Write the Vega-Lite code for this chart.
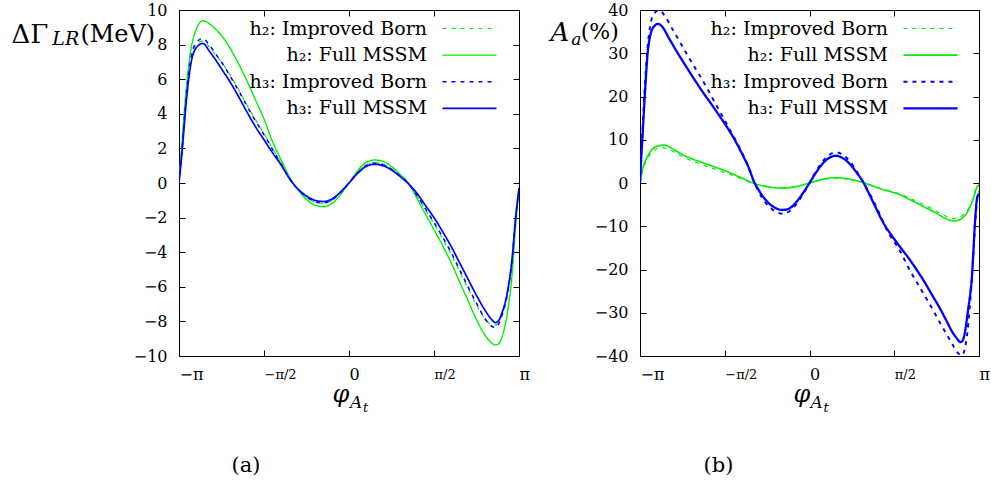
{
  "$schema": "https://vega.github.io/schema/vega-lite/v6.json",
  "bounds": "flush",
  "spacing": 121,
  "padding": {"left": 10, "top": 1, "right": 5, "bottom": 5},
  "background": "white",
  "config": {
    "font": "DejaVu Serif",
    "view": {"stroke": "#000", "strokeWidth": 1},
    "axis": {"domain": false, "grid": false, "tickColor": "#000", "tickSize": -6, "tickWidth": 1, "labelFont": "DejaVu Serif", "labelFontSize": 16, "labelColor": "#000", "titleFont": "DejaVu Serif", "titleColor": "#000", "titleFontWeight": "normal"},
    "legend": {"labelFont": "DejaVu Serif", "labelColor": "#000"},
    "title": {"font": "DejaVu Serif", "color": "#000", "fontWeight": "normal"},
    "text": {"font": "DejaVu Serif", "color": "#000"}
  },
  "resolve": {
    "scale": {"color": "independent", "strokeDash": "independent", "strokeWidth": "independent"},
    "legend": {"color": "independent", "strokeDash": "independent", "strokeWidth": "independent"}
  },
  "datasets": {
    "left": [
      {"s":"h₂: Improved Born","t":-1,"v":0},{"s":"h₂: Improved Born","t":-0.98,"v":2.2},{"s":"h₂: Improved Born","t":-0.96,"v":4.6},{"s":"h₂: Improved Born","t":-0.93,"v":7.1},{"s":"h₂: Improved Born","t":-0.9,"v":8.0},{"s":"h₂: Improved Born","t":-0.86,"v":8.2},{"s":"h₂: Improved Born","t":-0.82,"v":7.85},{"s":"h₂: Improved Born","t":-0.78,"v":7.35},{"s":"h₂: Improved Born","t":-0.74,"v":6.85},{"s":"h₂: Improved Born","t":-0.7,"v":6.25},{"s":"h₂: Improved Born","t":-0.65,"v":5.4},{"s":"h₂: Improved Born","t":-0.6,"v":4.5},{"s":"h₂: Improved Born","t":-0.55,"v":3.65},{"s":"h₂: Improved Born","t":-0.5,"v":2.85},{"s":"h₂: Improved Born","t":-0.45,"v":2.0},{"s":"h₂: Improved Born","t":-0.4,"v":1.15},{"s":"h₂: Improved Born","t":-0.35,"v":0.27},{"s":"h₂: Improved Born","t":-0.3,"v":-0.38},{"s":"h₂: Improved Born","t":-0.25,"v":-0.82},{"s":"h₂: Improved Born","t":-0.2,"v":-1.1},{"s":"h₂: Improved Born","t":-0.15,"v":-1.17},{"s":"h₂: Improved Born","t":-0.1,"v":-1.0},{"s":"h₂: Improved Born","t":-0.05,"v":-0.57},{"s":"h₂: Improved Born","t":0,"v":0},{"s":"h₂: Improved Born","t":0.05,"v":0.6},{"s":"h₂: Improved Born","t":0.1,"v":1.03},{"s":"h₂: Improved Born","t":0.15,"v":1.17},{"s":"h₂: Improved Born","t":0.2,"v":1.08},{"s":"h₂: Improved Born","t":0.25,"v":0.82},{"s":"h₂: Improved Born","t":0.3,"v":0.42},{"s":"h₂: Improved Born","t":0.35,"v":-0.03},{"s":"h₂: Improved Born","t":0.4,"v":-0.75},{"s":"h₂: Improved Born","t":0.45,"v":-1.55},{"s":"h₂: Improved Born","t":0.5,"v":-2.35},{"s":"h₂: Improved Born","t":0.55,"v":-3.2},{"s":"h₂: Improved Born","t":0.6,"v":-4.1},{"s":"h₂: Improved Born","t":0.65,"v":-5.1},{"s":"h₂: Improved Born","t":0.7,"v":-6.1},{"s":"h₂: Improved Born","t":0.75,"v":-7.05},{"s":"h₂: Improved Born","t":0.8,"v":-7.85},{"s":"h₂: Improved Born","t":0.84,"v":-8.2},{"s":"h₂: Improved Born","t":0.86,"v":-8.22},{"s":"h₂: Improved Born","t":0.88,"v":-8.05},{"s":"h₂: Improved Born","t":0.9,"v":-7.6},{"s":"h₂: Improved Born","t":0.93,"v":-6.5},{"s":"h₂: Improved Born","t":0.96,"v":-4.4},{"s":"h₂: Improved Born","t":0.98,"v":-2.1},{"s":"h₂: Improved Born","t":1,"v":-0.3},
      {"s":"h₂: Full MSSM","t":-1,"v":0},{"s":"h₂: Full MSSM","t":-0.98,"v":2.7},{"s":"h₂: Full MSSM","t":-0.96,"v":5.2},{"s":"h₂: Full MSSM","t":-0.93,"v":7.7},{"s":"h₂: Full MSSM","t":-0.9,"v":8.85},{"s":"h₂: Full MSSM","t":-0.86,"v":9.38},{"s":"h₂: Full MSSM","t":-0.82,"v":9.2},{"s":"h₂: Full MSSM","t":-0.78,"v":8.85},{"s":"h₂: Full MSSM","t":-0.74,"v":8.4},{"s":"h₂: Full MSSM","t":-0.7,"v":7.8},{"s":"h₂: Full MSSM","t":-0.65,"v":6.9},{"s":"h₂: Full MSSM","t":-0.6,"v":5.9},{"s":"h₂: Full MSSM","t":-0.55,"v":4.8},{"s":"h₂: Full MSSM","t":-0.5,"v":3.7},{"s":"h₂: Full MSSM","t":-0.45,"v":2.4},{"s":"h₂: Full MSSM","t":-0.4,"v":1.35},{"s":"h₂: Full MSSM","t":-0.35,"v":0.35},{"s":"h₂: Full MSSM","t":-0.3,"v":-0.4},{"s":"h₂: Full MSSM","t":-0.25,"v":-0.95},{"s":"h₂: Full MSSM","t":-0.2,"v":-1.28},{"s":"h₂: Full MSSM","t":-0.15,"v":-1.37},{"s":"h₂: Full MSSM","t":-0.1,"v":-1.18},{"s":"h₂: Full MSSM","t":-0.05,"v":-0.68},{"s":"h₂: Full MSSM","t":0,"v":0},{"s":"h₂: Full MSSM","t":0.05,"v":0.7},{"s":"h₂: Full MSSM","t":0.1,"v":1.18},{"s":"h₂: Full MSSM","t":0.15,"v":1.33},{"s":"h₂: Full MSSM","t":0.2,"v":1.25},{"s":"h₂: Full MSSM","t":0.25,"v":0.95},{"s":"h₂: Full MSSM","t":0.3,"v":0.5},{"s":"h₂: Full MSSM","t":0.35,"v":0.0},{"s":"h₂: Full MSSM","t":0.4,"v":-0.9},{"s":"h₂: Full MSSM","t":0.45,"v":-1.8},{"s":"h₂: Full MSSM","t":0.5,"v":-2.7},{"s":"h₂: Full MSSM","t":0.55,"v":-3.6},{"s":"h₂: Full MSSM","t":0.6,"v":-4.6},{"s":"h₂: Full MSSM","t":0.65,"v":-5.7},{"s":"h₂: Full MSSM","t":0.7,"v":-6.8},{"s":"h₂: Full MSSM","t":0.75,"v":-7.9},{"s":"h₂: Full MSSM","t":0.8,"v":-8.8},{"s":"h₂: Full MSSM","t":0.84,"v":-9.25},{"s":"h₂: Full MSSM","t":0.86,"v":-9.36},{"s":"h₂: Full MSSM","t":0.88,"v":-9.3},{"s":"h₂: Full MSSM","t":0.9,"v":-8.9},{"s":"h₂: Full MSSM","t":0.93,"v":-7.6},{"s":"h₂: Full MSSM","t":0.96,"v":-5.2},{"s":"h₂: Full MSSM","t":0.98,"v":-2.5},{"s":"h₂: Full MSSM","t":1,"v":-0.4},
      {"s":"h₃: Improved Born","t":-1,"v":0},{"s":"h₃: Improved Born","t":-0.98,"v":2.2},{"s":"h₃: Improved Born","t":-0.96,"v":4.7},{"s":"h₃: Improved Born","t":-0.93,"v":7.2},{"s":"h₃: Improved Born","t":-0.9,"v":8.1},{"s":"h₃: Improved Born","t":-0.86,"v":8.35},{"s":"h₃: Improved Born","t":-0.82,"v":7.95},{"s":"h₃: Improved Born","t":-0.78,"v":7.4},{"s":"h₃: Improved Born","t":-0.74,"v":6.85},{"s":"h₃: Improved Born","t":-0.7,"v":6.2},{"s":"h₃: Improved Born","t":-0.65,"v":5.35},{"s":"h₃: Improved Born","t":-0.6,"v":4.45},{"s":"h₃: Improved Born","t":-0.55,"v":3.6},{"s":"h₃: Improved Born","t":-0.5,"v":2.8},{"s":"h₃: Improved Born","t":-0.45,"v":1.95},{"s":"h₃: Improved Born","t":-0.4,"v":1.12},{"s":"h₃: Improved Born","t":-0.35,"v":0.25},{"s":"h₃: Improved Born","t":-0.3,"v":-0.37},{"s":"h₃: Improved Born","t":-0.25,"v":-0.8},{"s":"h₃: Improved Born","t":-0.2,"v":-1.08},{"s":"h₃: Improved Born","t":-0.15,"v":-1.15},{"s":"h₃: Improved Born","t":-0.1,"v":-0.98},{"s":"h₃: Improved Born","t":-0.05,"v":-0.55},{"s":"h₃: Improved Born","t":0,"v":0},{"s":"h₃: Improved Born","t":0.05,"v":0.58},{"s":"h₃: Improved Born","t":0.1,"v":1.01},{"s":"h₃: Improved Born","t":0.15,"v":1.15},{"s":"h₃: Improved Born","t":0.2,"v":1.06},{"s":"h₃: Improved Born","t":0.25,"v":0.8},{"s":"h₃: Improved Born","t":0.3,"v":0.4},{"s":"h₃: Improved Born","t":0.35,"v":-0.04},{"s":"h₃: Improved Born","t":0.4,"v":-0.72},{"s":"h₃: Improved Born","t":0.45,"v":-1.5},{"s":"h₃: Improved Born","t":0.5,"v":-2.28},{"s":"h₃: Improved Born","t":0.55,"v":-3.12},{"s":"h₃: Improved Born","t":0.6,"v":-4.0},{"s":"h₃: Improved Born","t":0.65,"v":-5.0},{"s":"h₃: Improved Born","t":0.7,"v":-6.0},{"s":"h₃: Improved Born","t":0.75,"v":-6.95},{"s":"h₃: Improved Born","t":0.8,"v":-7.85},{"s":"h₃: Improved Born","t":0.84,"v":-8.28},{"s":"h₃: Improved Born","t":0.86,"v":-8.35},{"s":"h₃: Improved Born","t":0.88,"v":-8.15},{"s":"h₃: Improved Born","t":0.9,"v":-7.65},{"s":"h₃: Improved Born","t":0.93,"v":-6.5},{"s":"h₃: Improved Born","t":0.96,"v":-4.4},{"s":"h₃: Improved Born","t":0.98,"v":-2.1},{"s":"h₃: Improved Born","t":1,"v":-0.3},
      {"s":"h₃: Full MSSM","t":-1,"v":0},{"s":"h₃: Full MSSM","t":-0.98,"v":2.0},{"s":"h₃: Full MSSM","t":-0.96,"v":4.4},{"s":"h₃: Full MSSM","t":-0.93,"v":6.9},{"s":"h₃: Full MSSM","t":-0.9,"v":7.8},{"s":"h₃: Full MSSM","t":-0.86,"v":8.07},{"s":"h₃: Full MSSM","t":-0.82,"v":7.6},{"s":"h₃: Full MSSM","t":-0.78,"v":7.05},{"s":"h₃: Full MSSM","t":-0.74,"v":6.45},{"s":"h₃: Full MSSM","t":-0.7,"v":5.85},{"s":"h₃: Full MSSM","t":-0.65,"v":5.0},{"s":"h₃: Full MSSM","t":-0.6,"v":4.1},{"s":"h₃: Full MSSM","t":-0.55,"v":3.25},{"s":"h₃: Full MSSM","t":-0.5,"v":2.5},{"s":"h₃: Full MSSM","t":-0.45,"v":1.75},{"s":"h₃: Full MSSM","t":-0.4,"v":1.05},{"s":"h₃: Full MSSM","t":-0.35,"v":0.25},{"s":"h₃: Full MSSM","t":-0.3,"v":-0.35},{"s":"h₃: Full MSSM","t":-0.25,"v":-0.75},{"s":"h₃: Full MSSM","t":-0.2,"v":-1.0},{"s":"h₃: Full MSSM","t":-0.15,"v":-1.07},{"s":"h₃: Full MSSM","t":-0.1,"v":-0.92},{"s":"h₃: Full MSSM","t":-0.05,"v":-0.52},{"s":"h₃: Full MSSM","t":0,"v":0},{"s":"h₃: Full MSSM","t":0.05,"v":0.55},{"s":"h₃: Full MSSM","t":0.1,"v":0.95},{"s":"h₃: Full MSSM","t":0.15,"v":1.08},{"s":"h₃: Full MSSM","t":0.2,"v":1.0},{"s":"h₃: Full MSSM","t":0.25,"v":0.75},{"s":"h₃: Full MSSM","t":0.3,"v":0.38},{"s":"h₃: Full MSSM","t":0.35,"v":-0.05},{"s":"h₃: Full MSSM","t":0.4,"v":-0.6},{"s":"h₃: Full MSSM","t":0.45,"v":-1.3},{"s":"h₃: Full MSSM","t":0.5,"v":-2.0},{"s":"h₃: Full MSSM","t":0.55,"v":-2.8},{"s":"h₃: Full MSSM","t":0.6,"v":-3.65},{"s":"h₃: Full MSSM","t":0.65,"v":-4.6},{"s":"h₃: Full MSSM","t":0.7,"v":-5.55},{"s":"h₃: Full MSSM","t":0.75,"v":-6.5},{"s":"h₃: Full MSSM","t":0.8,"v":-7.35},{"s":"h₃: Full MSSM","t":0.84,"v":-7.9},{"s":"h₃: Full MSSM","t":0.86,"v":-8.07},{"s":"h₃: Full MSSM","t":0.88,"v":-7.95},{"s":"h₃: Full MSSM","t":0.9,"v":-7.5},{"s":"h₃: Full MSSM","t":0.93,"v":-6.4},{"s":"h₃: Full MSSM","t":0.96,"v":-4.3},{"s":"h₃: Full MSSM","t":0.98,"v":-2.0},{"s":"h₃: Full MSSM","t":1,"v":-0.3}
    ],
    "right": [
      {"s":"h₂: Improved Born","t":-1,"v":0},{"s":"h₂: Improved Born","t":-0.984,"v":3.0},{"s":"h₂: Improved Born","t":-0.965,"v":5.0},{"s":"h₂: Improved Born","t":-0.945,"v":6.4},{"s":"h₂: Improved Born","t":-0.906,"v":7.8},{"s":"h₂: Improved Born","t":-0.86,"v":8.1},{"s":"h₂: Improved Born","t":-0.8,"v":7.2},{"s":"h₂: Improved Born","t":-0.73,"v":5.7},{"s":"h₂: Improved Born","t":-0.68,"v":4.9},{"s":"h₂: Improved Born","t":-0.63,"v":4.2},{"s":"h₂: Improved Born","t":-0.58,"v":3.5},{"s":"h₂: Improved Born","t":-0.53,"v":2.85},{"s":"h₂: Improved Born","t":-0.48,"v":2.15},{"s":"h₂: Improved Born","t":-0.44,"v":1.55},{"s":"h₂: Improved Born","t":-0.39,"v":0.8},{"s":"h₂: Improved Born","t":-0.34,"v":0.0},{"s":"h₂: Improved Born","t":-0.29,"v":-0.55},{"s":"h₂: Improved Born","t":-0.24,"v":-0.9},{"s":"h₂: Improved Born","t":-0.16,"v":-1.15},{"s":"h₂: Improved Born","t":-0.08,"v":-0.8},{"s":"h₂: Improved Born","t":0,"v":0},{"s":"h₂: Improved Born","t":0.08,"v":0.8},{"s":"h₂: Improved Born","t":0.15,"v":1.15},{"s":"h₂: Improved Born","t":0.24,"v":0.8},{"s":"h₂: Improved Born","t":0.32,"v":0.0},{"s":"h₂: Improved Born","t":0.38,"v":-0.75},{"s":"h₂: Improved Born","t":0.44,"v":-1.45},{"s":"h₂: Improved Born","t":0.49,"v":-2.0},{"s":"h₂: Improved Born","t":0.54,"v":-2.6},{"s":"h₂: Improved Born","t":0.59,"v":-3.5},{"s":"h₂: Improved Born","t":0.63,"v":-4.2},{"s":"h₂: Improved Born","t":0.68,"v":-5.1},{"s":"h₂: Improved Born","t":0.73,"v":-6.1},{"s":"h₂: Improved Born","t":0.77,"v":-7.0},{"s":"h₂: Improved Born","t":0.81,"v":-7.8},{"s":"h₂: Improved Born","t":0.85,"v":-8.2},{"s":"h₂: Improved Born","t":0.88,"v":-8.0},{"s":"h₂: Improved Born","t":0.91,"v":-7.3},{"s":"h₂: Improved Born","t":0.93,"v":-6.5},{"s":"h₂: Improved Born","t":0.947,"v":-5.2},{"s":"h₂: Improved Born","t":0.965,"v":-3.6},{"s":"h₂: Improved Born","t":0.986,"v":-1.0},{"s":"h₂: Improved Born","t":1,"v":-0.5},
      {"s":"h₂: Full MSSM","t":-1,"v":0},{"s":"h₂: Full MSSM","t":-0.984,"v":3.4},{"s":"h₂: Full MSSM","t":-0.965,"v":5.4},{"s":"h₂: Full MSSM","t":-0.945,"v":6.9},{"s":"h₂: Full MSSM","t":-0.906,"v":8.4},{"s":"h₂: Full MSSM","t":-0.857,"v":8.8},{"s":"h₂: Full MSSM","t":-0.8,"v":7.7},{"s":"h₂: Full MSSM","t":-0.73,"v":6.2},{"s":"h₂: Full MSSM","t":-0.68,"v":5.4},{"s":"h₂: Full MSSM","t":-0.63,"v":4.7},{"s":"h₂: Full MSSM","t":-0.58,"v":4.0},{"s":"h₂: Full MSSM","t":-0.53,"v":3.3},{"s":"h₂: Full MSSM","t":-0.48,"v":2.55},{"s":"h₂: Full MSSM","t":-0.44,"v":1.85},{"s":"h₂: Full MSSM","t":-0.39,"v":1.0},{"s":"h₂: Full MSSM","t":-0.34,"v":0.1},{"s":"h₂: Full MSSM","t":-0.29,"v":-0.5},{"s":"h₂: Full MSSM","t":-0.24,"v":-0.9},{"s":"h₂: Full MSSM","t":-0.16,"v":-1.2},{"s":"h₂: Full MSSM","t":-0.08,"v":-0.85},{"s":"h₂: Full MSSM","t":0,"v":0},{"s":"h₂: Full MSSM","t":0.08,"v":0.85},{"s":"h₂: Full MSSM","t":0.15,"v":1.23},{"s":"h₂: Full MSSM","t":0.24,"v":0.85},{"s":"h₂: Full MSSM","t":0.32,"v":0.05},{"s":"h₂: Full MSSM","t":0.38,"v":-0.8},{"s":"h₂: Full MSSM","t":0.44,"v":-1.6},{"s":"h₂: Full MSSM","t":0.49,"v":-2.15},{"s":"h₂: Full MSSM","t":0.54,"v":-2.8},{"s":"h₂: Full MSSM","t":0.59,"v":-3.8},{"s":"h₂: Full MSSM","t":0.63,"v":-4.6},{"s":"h₂: Full MSSM","t":0.68,"v":-5.6},{"s":"h₂: Full MSSM","t":0.73,"v":-6.6},{"s":"h₂: Full MSSM","t":0.77,"v":-7.5},{"s":"h₂: Full MSSM","t":0.81,"v":-8.35},{"s":"h₂: Full MSSM","t":0.85,"v":-8.8},{"s":"h₂: Full MSSM","t":0.88,"v":-8.6},{"s":"h₂: Full MSSM","t":0.91,"v":-7.8},{"s":"h₂: Full MSSM","t":0.93,"v":-6.9},{"s":"h₂: Full MSSM","t":0.947,"v":-5.5},{"s":"h₂: Full MSSM","t":0.965,"v":-3.8},{"s":"h₂: Full MSSM","t":0.986,"v":-1.1},{"s":"h₂: Full MSSM","t":1,"v":-0.5},
      {"s":"h₃: Improved Born","t":-1,"v":0},{"s":"h₃: Improved Born","t":-0.994,"v":5.5},{"s":"h₃: Improved Born","t":-0.985,"v":12.5},{"s":"h₃: Improved Born","t":-0.975,"v":20},{"s":"h₃: Improved Born","t":-0.965,"v":26.5},{"s":"h₃: Improved Born","t":-0.955,"v":31.5},{"s":"h₃: Improved Born","t":-0.945,"v":35},{"s":"h₃: Improved Born","t":-0.935,"v":37.3},{"s":"h₃: Improved Born","t":-0.915,"v":39.2},{"s":"h₃: Improved Born","t":-0.895,"v":39.9},{"s":"h₃: Improved Born","t":-0.875,"v":39.7},{"s":"h₃: Improved Born","t":-0.857,"v":38.8},{"s":"h₃: Improved Born","t":-0.8,"v":35.0},{"s":"h₃: Improved Born","t":-0.75,"v":31.6},{"s":"h₃: Improved Born","t":-0.7,"v":28.2},{"s":"h₃: Improved Born","t":-0.65,"v":25.0},{"s":"h₃: Improved Born","t":-0.6,"v":21.6},{"s":"h₃: Improved Born","t":-0.55,"v":18.0},{"s":"h₃: Improved Born","t":-0.5,"v":14.5},{"s":"h₃: Improved Born","t":-0.45,"v":10.9},{"s":"h₃: Improved Born","t":-0.4,"v":7.2},{"s":"h₃: Improved Born","t":-0.36,"v":3.7},{"s":"h₃: Improved Born","t":-0.33,"v":0.5},{"s":"h₃: Improved Born","t":-0.3,"v":-2.0},{"s":"h₃: Improved Born","t":-0.25,"v":-5.0},{"s":"h₃: Improved Born","t":-0.2,"v":-6.6},{"s":"h₃: Improved Born","t":-0.16,"v":-7.1},{"s":"h₃: Improved Born","t":-0.12,"v":-6.6},{"s":"h₃: Improved Born","t":-0.08,"v":-5.0},{"s":"h₃: Improved Born","t":-0.04,"v":-2.7},{"s":"h₃: Improved Born","t":0,"v":0},{"s":"h₃: Improved Born","t":0.04,"v":2.8},{"s":"h₃: Improved Born","t":0.08,"v":5.1},{"s":"h₃: Improved Born","t":0.12,"v":6.6},{"s":"h₃: Improved Born","t":0.153,"v":7.1},{"s":"h₃: Improved Born","t":0.19,"v":6.7},{"s":"h₃: Improved Born","t":0.24,"v":4.9},{"s":"h₃: Improved Born","t":0.28,"v":2.6},{"s":"h₃: Improved Born","t":0.32,"v":0},{"s":"h₃: Improved Born","t":0.36,"v":-2.8},{"s":"h₃: Improved Born","t":0.398,"v":-5.8},{"s":"h₃: Improved Born","t":0.457,"v":-10.9},{"s":"h₃: Improved Born","t":0.535,"v":-15.8},{"s":"h₃: Improved Born","t":0.594,"v":-20.3},{"s":"h₃: Improved Born","t":0.653,"v":-24.3},{"s":"h₃: Improved Born","t":0.712,"v":-28.2},{"s":"h₃: Improved Born","t":0.771,"v":-32.4},{"s":"h₃: Improved Born","t":0.829,"v":-36.3},{"s":"h₃: Improved Born","t":0.878,"v":-39.4},{"s":"h₃: Improved Born","t":0.9,"v":-39.9},{"s":"h₃: Improved Born","t":0.915,"v":-38.5},{"s":"h₃: Improved Born","t":0.93,"v":-35},{"s":"h₃: Improved Born","t":0.945,"v":-29},{"s":"h₃: Improved Born","t":0.96,"v":-21},{"s":"h₃: Improved Born","t":0.975,"v":-11},{"s":"h₃: Improved Born","t":0.99,"v":-3.5},{"s":"h₃: Improved Born","t":1,"v":-2},
      {"s":"h₃: Full MSSM","t":-1,"v":0},{"s":"h₃: Full MSSM","t":-0.994,"v":4.9},{"s":"h₃: Full MSSM","t":-0.985,"v":11},{"s":"h₃: Full MSSM","t":-0.975,"v":18},{"s":"h₃: Full MSSM","t":-0.965,"v":24.5},{"s":"h₃: Full MSSM","t":-0.955,"v":30.0},{"s":"h₃: Full MSSM","t":-0.945,"v":33.0},{"s":"h₃: Full MSSM","t":-0.935,"v":34.8},{"s":"h₃: Full MSSM","t":-0.915,"v":36.3},{"s":"h₃: Full MSSM","t":-0.894,"v":36.8},{"s":"h₃: Full MSSM","t":-0.87,"v":36.2},{"s":"h₃: Full MSSM","t":-0.828,"v":33.4},{"s":"h₃: Full MSSM","t":-0.78,"v":30.2},{"s":"h₃: Full MSSM","t":-0.729,"v":27.0},{"s":"h₃: Full MSSM","t":-0.68,"v":24.0},{"s":"h₃: Full MSSM","t":-0.631,"v":21.1},{"s":"h₃: Full MSSM","t":-0.58,"v":18.3},{"s":"h₃: Full MSSM","t":-0.534,"v":15.7},{"s":"h₃: Full MSSM","t":-0.48,"v":12.5},{"s":"h₃: Full MSSM","t":-0.435,"v":9.55},{"s":"h₃: Full MSSM","t":-0.4,"v":6.9},{"s":"h₃: Full MSSM","t":-0.357,"v":3.4},{"s":"h₃: Full MSSM","t":-0.327,"v":0.3},{"s":"h₃: Full MSSM","t":-0.3,"v":-1.6},{"s":"h₃: Full MSSM","t":-0.25,"v":-4.3},{"s":"h₃: Full MSSM","t":-0.2,"v":-5.8},{"s":"h₃: Full MSSM","t":-0.16,"v":-6.24},{"s":"h₃: Full MSSM","t":-0.12,"v":-5.9},{"s":"h₃: Full MSSM","t":-0.08,"v":-4.5},{"s":"h₃: Full MSSM","t":-0.04,"v":-2.4},{"s":"h₃: Full MSSM","t":0,"v":0},{"s":"h₃: Full MSSM","t":0.04,"v":2.5},{"s":"h₃: Full MSSM","t":0.08,"v":4.6},{"s":"h₃: Full MSSM","t":0.12,"v":5.9},{"s":"h₃: Full MSSM","t":0.153,"v":6.3},{"s":"h₃: Full MSSM","t":0.19,"v":5.9},{"s":"h₃: Full MSSM","t":0.24,"v":4.3},{"s":"h₃: Full MSSM","t":0.28,"v":2.3},{"s":"h₃: Full MSSM","t":0.32,"v":0},{"s":"h₃: Full MSSM","t":0.339,"v":-1.5},{"s":"h₃: Full MSSM","t":0.38,"v":-4.8},{"s":"h₃: Full MSSM","t":0.437,"v":-9.3},{"s":"h₃: Full MSSM","t":0.486,"v":-12.2},{"s":"h₃: Full MSSM","t":0.535,"v":-14.8},{"s":"h₃: Full MSSM","t":0.585,"v":-17.4},{"s":"h₃: Full MSSM","t":0.633,"v":-20.1},{"s":"h₃: Full MSSM","t":0.68,"v":-23.0},{"s":"h₃: Full MSSM","t":0.731,"v":-26.4},{"s":"h₃: Full MSSM","t":0.771,"v":-29.1},{"s":"h₃: Full MSSM","t":0.81,"v":-32.0},{"s":"h₃: Full MSSM","t":0.845,"v":-34.6},{"s":"h₃: Full MSSM","t":0.869,"v":-35.9},{"s":"h₃: Full MSSM","t":0.89,"v":-36.8},{"s":"h₃: Full MSSM","t":0.905,"v":-36.3},{"s":"h₃: Full MSSM","t":0.92,"v":-33.8},{"s":"h₃: Full MSSM","t":0.935,"v":-29.5},{"s":"h₃: Full MSSM","t":0.947,"v":-26},{"s":"h₃: Full MSSM","t":0.957,"v":-22.4},{"s":"h₃: Full MSSM","t":0.966,"v":-16.5},{"s":"h₃: Full MSSM","t":0.976,"v":-9.3},{"s":"h₃: Full MSSM","t":0.99,"v":-3.2},{"s":"h₃: Full MSSM","t":1,"v":-2.5}
    ],
    "labelsLeft": [{"sub": "LR", "unit": "(MeV)", "a": "A", "t": "t"}],
    "labelsRight": [{"sub": "a", "unit": "(%)", "a": "A", "t": "t"}]
  },
  "hconcat": [
    {
      "width": 340,
      "height": 346,
      "title": {"text": "(a)", "orient": "bottom", "frame": "group", "anchor": "middle", "fontSize": 21, "offset": 40, "dx": -103},
      "resolve": {"axis": {"x": "independent", "y": "independent"}},
      "layer": [
        {
          "data": {"name": "left"},
          "mark": {"type": "line", "interpolate": "monotone", "clip": true},
          "encoding": {
            "x": {"field": "t", "type": "quantitative", "scale": {"domain": [-1, 1], "nice": false, "zero": false},
              "axis": {"orient": "bottom", "values": [-1, -0.5, 0, 0.5, 1], "labelExpr": "datum.value == -1 ? '−π' : datum.value == -0.5 ? '−π/2' : datum.value == 0 ? '0' : datum.value == 0.5 ? 'π/2' : 'π'", "labelAlign": "left", "labelBaseline": "middle", "labelPadding": 24, "labelDx": 1, "labelFlush": false, "labelFontSize": {"condition": {"test": "abs(datum.value) == 0.5", "value": 13}, "value": 16}, "title": "φ", "titleFontSize": 24, "titleFontStyle": "italic", "titleX": 153, "titleY": 45, "titleAlign": "left", "titleBaseline": "alphabetic"}},
            "y": {"field": "v", "type": "quantitative", "scale": {"domain": [-10, 10], "nice": false, "zero": false},
              "axis": {"orient": "left", "values": [-10, -8, -6, -4, -2, 0, 2, 4, 6, 8, 10], "labelPadding": 18, "labelFlush": false, "title": "ΔΓ", "titleFontSize": 26, "titleAngle": 0, "titleX": -168, "titleY": 32, "titleAlign": "left", "titleBaseline": "alphabetic"}},
            "color": {"field": "s", "type": "nominal", "scale": {"domain": ["h₂: Improved Born", "h₂: Full MSSM", "h₃: Improved Born", "h₃: Full MSSM"], "range": ["#00ee00", "#00ee00", "#0000ff", "#0000ff"]},
              "legend": {"orient": "none", "legendX": 281, "legendY": 9, "title": null, "padding": 0, "symbolType": "M-5,0H5", "symbolSize": 117, "labelAlign": "right", "labelOffset": -52, "labelFontSize": 19, "rowPadding": 6.6, "labelLimit": 400}},
            "strokeDash": {"field": "s", "type": "nominal", "scale": {"domain": ["h₂: Improved Born", "h₂: Full MSSM", "h₃: Improved Born", "h₃: Full MSSM"], "range": [[4, 5], [1, 0], [4, 5], [1, 0]]}},
            "strokeWidth": {"field": "s", "type": "nominal", "scale": {"domain": ["h₂: Improved Born", "h₂: Full MSSM", "h₃: Improved Born", "h₃: Full MSSM"], "range": [1.2, 1.7, 1.2, 1.7]}}
          }
        },
        {
          "data": {"name": "left"},
          "mark": {"type": "line", "opacity": 0},
          "encoding": {
            "x": {"field": "t", "type": "quantitative", "scale": {"domain": [-1, 1], "nice": false, "zero": false}, "axis": {"orient": "top", "values": [-1, -0.5, 0, 0.5, 1], "labels": false, "title": null}},
            "y": {"field": "v", "type": "quantitative", "scale": {"domain": [-10, 10], "nice": false, "zero": false}, "axis": {"orient": "right", "values": [-10, -8, -6, -4, -2, 0, 2, 4, 6, 8, 10], "labels": false, "title": null}}
          }
        },
        {
          "data": {"name": "labelsLeft"},
          "mark": {"type": "text", "align": "left", "baseline": "alphabetic", "fontSize": 19, "fontStyle": "italic"},
          "encoding": {"x": {"datum": -1.745, "type": "quantitative", "axis": null}, "y": {"datum": 8.0, "type": "quantitative", "axis": null}, "text": {"field": "sub"}}
        },
        {
          "data": {"name": "labelsLeft"},
          "mark": {"type": "text", "align": "left", "baseline": "alphabetic", "fontSize": 24},
          "encoding": {"x": {"datum": -1.58, "type": "quantitative", "axis": null}, "y": {"datum": 8.17, "type": "quantitative", "axis": null}, "text": {"field": "unit"}}
        },
        {
          "data": {"name": "labelsLeft"},
          "mark": {"type": "text", "align": "left", "baseline": "alphabetic", "fontSize": 17, "fontStyle": "italic"},
          "encoding": {"x": {"datum": 0.006, "type": "quantitative", "axis": null}, "y": {"datum": -13.0, "type": "quantitative", "axis": null}, "text": {"field": "a"}}
        },
        {
          "data": {"name": "labelsLeft"},
          "mark": {"type": "text", "align": "left", "baseline": "alphabetic", "fontSize": 13, "fontStyle": "italic"},
          "encoding": {"x": {"datum": 0.082, "type": "quantitative", "axis": null}, "y": {"datum": -13.25, "type": "quantitative", "axis": null}, "text": {"field": "t"}}
        }
      ]
    },
    {
      "width": 339,
      "height": 346,
      "title": {"text": "(b)", "orient": "bottom", "frame": "group", "anchor": "middle", "fontSize": 21, "offset": 40, "dx": -91},
      "resolve": {"axis": {"x": "independent", "y": "independent"}},
      "layer": [
        {
          "data": {"name": "right"},
          "mark": {"type": "line", "interpolate": "monotone", "clip": true},
          "encoding": {
            "x": {"field": "t", "type": "quantitative", "scale": {"domain": [-1, 1], "nice": false, "zero": false},
              "axis": {"orient": "bottom", "values": [-1, -0.5, 0, 0.5, 1], "labelExpr": "datum.value == -1 ? '−π' : datum.value == -0.5 ? '−π/2' : datum.value == 0 ? '0' : datum.value == 0.5 ? 'π/2' : 'π'", "labelAlign": "left", "labelBaseline": "middle", "labelPadding": 24, "labelDx": 1, "labelFlush": false, "labelFontSize": {"condition": {"test": "abs(datum.value) == 0.5", "value": 13}, "value": 16}, "title": "φ", "titleFontSize": 24, "titleFontStyle": "italic", "titleX": 153, "titleY": 45, "titleAlign": "left", "titleBaseline": "alphabetic"}},
            "y": {"field": "v", "type": "quantitative", "scale": {"domain": [-40, 40], "nice": false, "zero": false},
              "axis": {"orient": "left", "values": [-40, -30, -20, -10, 0, 10, 20, 30, 40], "labelPadding": 18, "labelFlush": false, "title": "A", "titleFontSize": 26, "titleFontStyle": "italic", "titleAngle": 0, "titleX": -90, "titleY": 30, "titleAlign": "left", "titleBaseline": "alphabetic"}},
            "color": {"field": "s", "type": "nominal", "scale": {"domain": ["h₂: Improved Born", "h₂: Full MSSM", "h₃: Improved Born", "h₃: Full MSSM"], "range": ["#00ee00", "#00ee00", "#0000ff", "#0000ff"]},
              "legend": {"orient": "none", "legendX": 281, "legendY": 9, "title": null, "padding": 0, "symbolType": "M-5,0H5", "symbolSize": 117, "labelAlign": "right", "labelOffset": -52, "labelFontSize": 19, "rowPadding": 6.6, "labelLimit": 400}},
            "strokeDash": {"field": "s", "type": "nominal", "scale": {"domain": ["h₂: Improved Born", "h₂: Full MSSM", "h₃: Improved Born", "h₃: Full MSSM"], "range": [[4, 5], [1, 0], [4, 5], [1, 0]]}},
            "strokeWidth": {"field": "s", "type": "nominal", "scale": {"domain": ["h₂: Improved Born", "h₂: Full MSSM", "h₃: Improved Born", "h₃: Full MSSM"], "range": [1.2, 2.3, 1.2, 2.3]}}
          }
        },
        {
          "data": {"name": "right"},
          "mark": {"type": "line", "opacity": 0},
          "encoding": {
            "x": {"field": "t", "type": "quantitative", "scale": {"domain": [-1, 1], "nice": false, "zero": false}, "axis": {"orient": "top", "values": [-1, -0.5, 0, 0.5, 1], "labels": false, "title": null}},
            "y": {"field": "v", "type": "quantitative", "scale": {"domain": [-40, 40], "nice": false, "zero": false}, "axis": {"orient": "right", "values": [-40, -30, -20, -10, 0, 10, 20, 30, 40], "labels": false, "title": null}}
          }
        },
        {
          "data": {"name": "labelsRight"},
          "mark": {"type": "text", "align": "left", "baseline": "alphabetic", "fontSize": 17, "fontStyle": "italic"},
          "encoding": {"x": {"datum": -1.406, "type": "quantitative", "axis": null}, "y": {"datum": 31.9, "type": "quantitative", "axis": null}, "text": {"field": "sub"}}
        },
        {
          "data": {"name": "labelsRight"},
          "mark": {"type": "text", "align": "left", "baseline": "alphabetic", "fontSize": 22},
          "encoding": {"x": {"datum": -1.35, "type": "quantitative", "axis": null}, "y": {"datum": 33.3, "type": "quantitative", "axis": null}, "text": {"field": "unit"}}
        },
        {
          "data": {"name": "labelsRight"},
          "mark": {"type": "text", "align": "left", "baseline": "alphabetic", "fontSize": 17, "fontStyle": "italic"},
          "encoding": {"x": {"datum": 0.006, "type": "quantitative", "axis": null}, "y": {"datum": -52.0, "type": "quantitative", "axis": null}, "text": {"field": "a"}}
        },
        {
          "data": {"name": "labelsRight"},
          "mark": {"type": "text", "align": "left", "baseline": "alphabetic", "fontSize": 13, "fontStyle": "italic"},
          "encoding": {"x": {"datum": 0.082, "type": "quantitative", "axis": null}, "y": {"datum": -52.95, "type": "quantitative", "axis": null}, "text": {"field": "t"}}
        }
      ]
    }
  ]
}
